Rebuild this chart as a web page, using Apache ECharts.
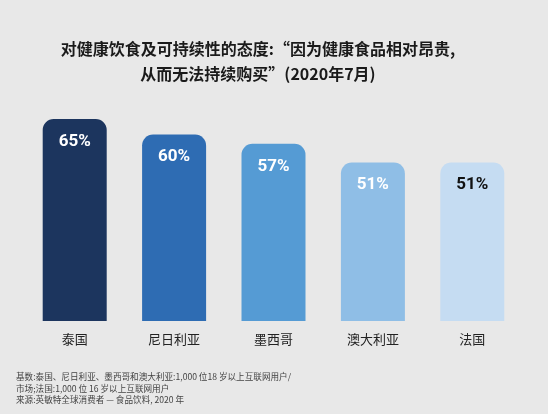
<!DOCTYPE html>
<html>
<head>
<meta charset="utf-8">
<script src="https://cdn.jsdelivr.net/npm/echarts@6/dist/echarts.min.js"></script>
<style>
  html, body { margin: 0; padding: 0; background: #e8e8e8; }
  #chart { width: 548px; height: 414px; }
</style>
</head>
<body>
<div id="chart"></div>
<script>
// 国家 / 百分比
var categories = ["泰国", "尼日利亚", "墨西哥", "澳大利亚", "法国"];
var values = [65, 60, 57, 51, 51];
var barColors = ["#1c355e", "#2e6cb3", "#559bd4", "#8fbee6", "#c5dcf2"];
var labelColors = ["#ffffff", "#ffffff", "#ffffff", "#ffffff", "#111111"];

var titleText = "对健康饮食及可持续性的态度:“因为健康食品相对昂贵,\n从而无法持续购买”(2020年7月)";
var noteText = "基数:泰国、尼日利亚、墨西哥和澳大利亚:1,000 位18 岁以上互联网用户/\n市场;法国:1,000 位 16 岁以上互联网用户\n来源:英敏特全球消费者 — 食品饮料, 2020 年";

var cjk = '"Noto Sans CJK SC", "Noto Sans", sans-serif';

var seriesData = [];
values.forEach(function (v, i) {
  seriesData.push({
    value: v,
    itemStyle: { color: barColors[i] },
    label: { color: labelColors[i] }
  });
});

var myChart = echarts.init(document.getElementById("chart"));
myChart.setOption({
  backgroundColor: "#e8e8e8",
  title: [
    {
      text: titleText,
      left: 253,
      top: 31,
      textAlign: "center",
      textStyle: {
        fontFamily: cjk,
        fontSize: 16,
        fontWeight: "bold",
        color: "#1a1a1a",
        lineHeight: 25,
        align: "center"
      }
    },
    {
      text: noteText,
      left: 11,
      top: 366,
      textStyle: {
        fontFamily: cjk,
        fontSize: 8.6,
        fontWeight: "normal",
        color: "#444",
        lineHeight: 11.5
      }
    }
  ],
  grid: { left: 25, right: 26, top: 119, bottom: 93 },
  xAxis: {
    type: "category",
    data: categories,
    axisLine: { show: false },
    axisTick: { show: false },
    axisLabel: {
      margin: 12,
      fontFamily: cjk,
      fontSize: 13,
      color: "#222"
    }
  },
  yAxis: {
    type: "value",
    min: 0,
    max: 65,
    show: false,
    splitLine: { show: false }
  },
  series: [
    {
      type: "bar",
      data: seriesData,
      barWidth: 64,
      itemStyle: { borderRadius: [11, 11, 0, 0] },
      label: {
        show: true,
        position: "insideTop",
        distance: 14,
        formatter: "{c}%",
        fontFamily: "Roboto, sans-serif",
        fontWeight: "bold",
        fontSize: 17
      }
    }
  ]
});
</script>
</body>
</html>
